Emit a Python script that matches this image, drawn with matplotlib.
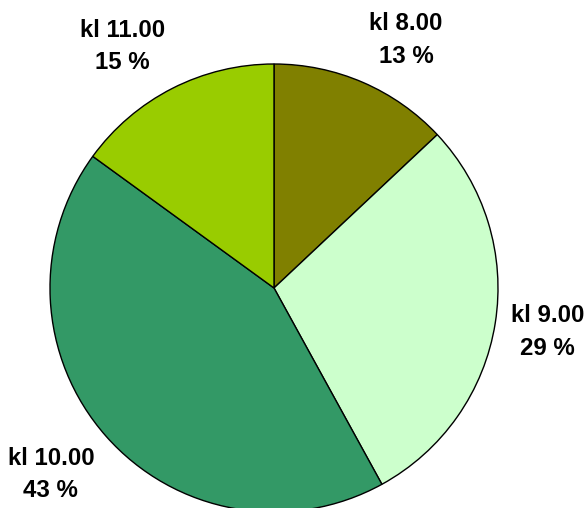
import matplotlib
matplotlib.use("Agg")
import matplotlib.pyplot as plt
import numpy as np

categories = ["kl 8.00", "kl 9.00", "kl 10.00", "kl 11.00"]
values = [13, 29, 43, 15]
colors = ["#808000", "#CCFFCC", "#339966", "#99CC00"]

fig = plt.figure(figsize=(5.84, 5.08), dpi=100)
cx, cy, r = 274, 288, 224
W, H = 584, 508
ax = fig.add_axes([(cx - r) / W, (H - cy - r) / H, 2 * r / W, 2 * r / H])
ax.axis("off")

wedges, _ = ax.pie(values, colors=colors, startangle=90, counterclock=False,
                   radius=1, wedgeprops=dict(edgecolor="black", linewidth=1))
ax.set_xlim(-1, 1)
ax.set_ylim(-1, 1)
ax.set_aspect("auto")

for w, c, v in zip(wedges, categories, values):
    ang = np.deg2rad((w.theta1 + w.theta2) / 2)
    x, y = np.cos(ang), np.sin(ang)
    d = 1.07
    ha = "left" if x > 0.1 else ("right" if x < -0.1 else "center")
    va = "center" if abs(y) < 0.35 else ("bottom" if y > 0 else "top")
    ty = d * y - (0.03 if va == "center" else 0.0)
    ax.text(d * x, ty, f"{c}\n{v} %", ha=ha, va=va, multialignment="center",
            fontsize=17.3, fontweight="bold", family="Liberation Sans",
            linespacing=1.55, clip_on=False)

fig.savefig("out.png", dpi=100)
